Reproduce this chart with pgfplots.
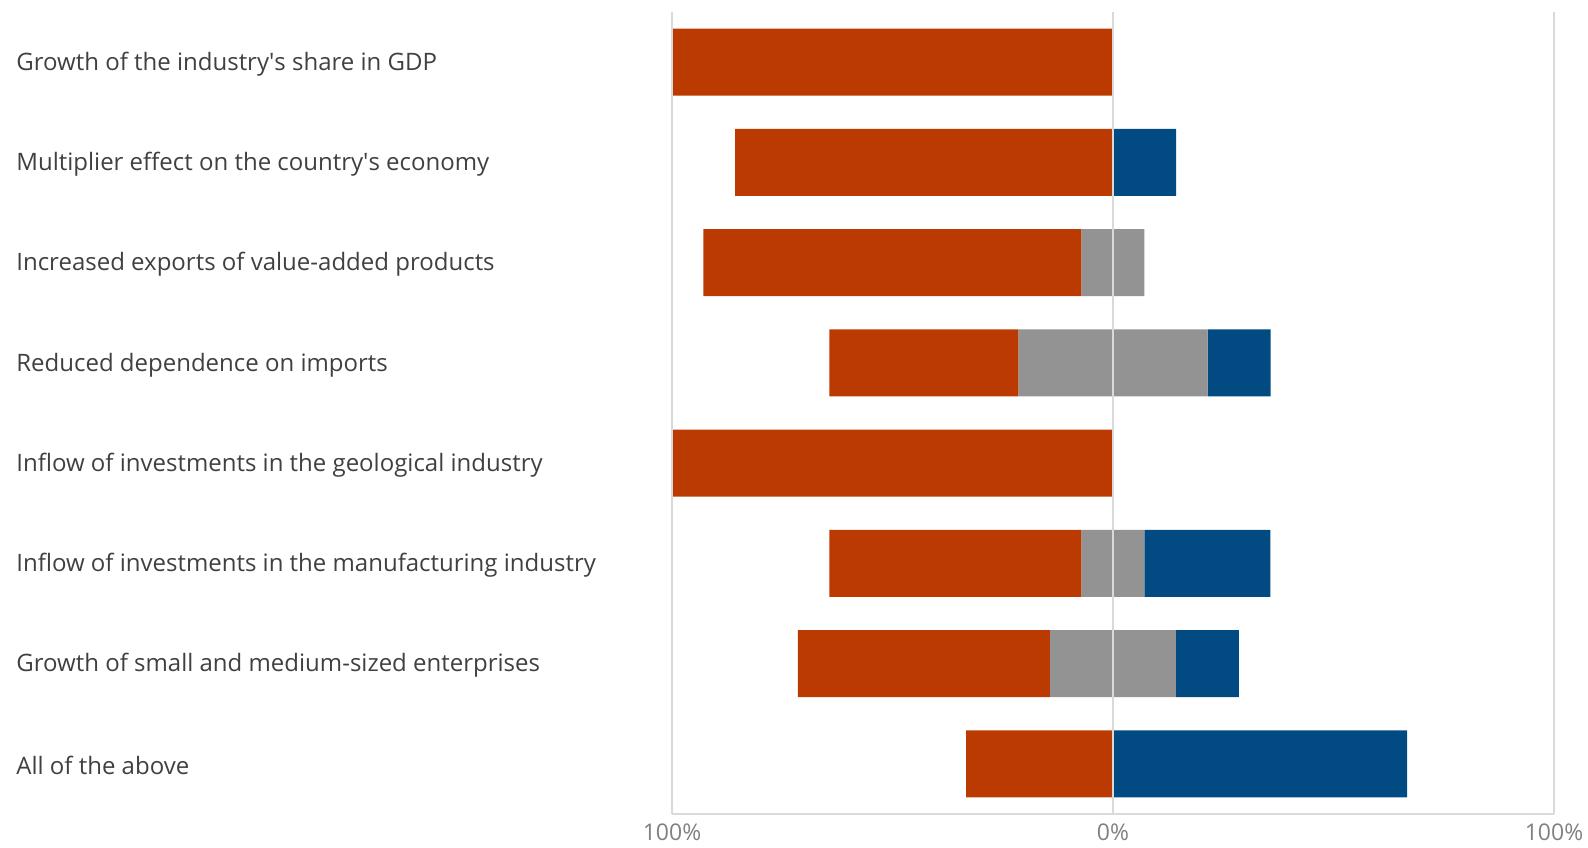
\documentclass[border=0pt]{standalone}
\usepackage{pgfplots}
\pgfplotsset{compat=1.18}
\usepackage{pgfplotstable}
\usepackage{fontspec}
\setmainfont{Open Sans}

\definecolor{negred}{HTML}{BA3A02}
\definecolor{neugrey}{HTML}{939393}
\definecolor{posblue}{HTML}{014A82}
\definecolor{gridgrey}{HTML}{D9D9D9}
\definecolor{labeltext}{HTML}{404040}
\definecolor{ticktext}{HTML}{808080}

% shares in %; off = -(red + grey/2) so the neutral part sits on 0
\pgfplotstableread{
y off red grey blue
0 -100.00 100.00 0.00 0.00
1 -85.71 85.71 0.00 14.29
2 -92.86 85.71 14.29 0.00
3 -64.29 42.86 42.86 14.29
4 -100.00 100.00 0.00 0.00
5 -64.29 57.14 14.29 28.57
6 -71.43 57.14 28.57 14.29
7 -33.33 33.33 0.00 66.67
}\likert

\begin{document}
\begin{tikzpicture}
\begin{axis}[
    width=441pt, height=401pt,
    scale only axis,
    xbar stacked,
    stack negative=on previous,
    bar width=33.5pt,
    xmin=-100, xmax=100,
    ymin=-0.5, ymax=7.5,
    y dir=reverse,
    axis x line*=bottom,
    axis y line*=left,
    x axis line style={gridgrey, line width=0.75pt},
    y axis line style={draw=none},
    axis on top,
    xmajorgrids,
    grid style={gridgrey, line width=0.75pt},
    major tick length=0pt,
    xtick={-100,0,100},
    xticklabels={100\%,0\%,100\%},
    xticklabel style={font=\fontsize{11.5}{13}\selectfont, text=ticktext, yshift=-1.5pt},
    ytick={0,...,7},
    yticklabels={
      Growth of the industry\textquotesingle s share in GDP,
      Multiplier effect on the country\textquotesingle s economy,
      Increased exports of value-added products,
      Reduced dependence on imports,
      Inflow of investments in the geological industry,
      Inflow of investments in the manufacturing industry,
      Growth of small and medium-sized enterprises,
      All of the above},
    yticklabel style={anchor=west, inner xsep=0pt, xshift=-328pt, yshift=-1pt,
      font=\fontsize{12}{14}\selectfont, text=labeltext},
    every axis plot/.append style={draw=none},
]
\addplot[fill=none] table[x=off, y=y] {\likert};
\addplot[fill=negred] table[x=red, y=y] {\likert};
\addplot[fill=neugrey] table[x=grey, y=y] {\likert};
\addplot[fill=posblue] table[x=blue, y=y] {\likert};
\end{axis}
\pgfresetboundingbox
\path (current axis.south west) ++(-336pt,-16.5pt) rectangle ++(794pt,423.5pt);
\end{tikzpicture}
\end{document}
